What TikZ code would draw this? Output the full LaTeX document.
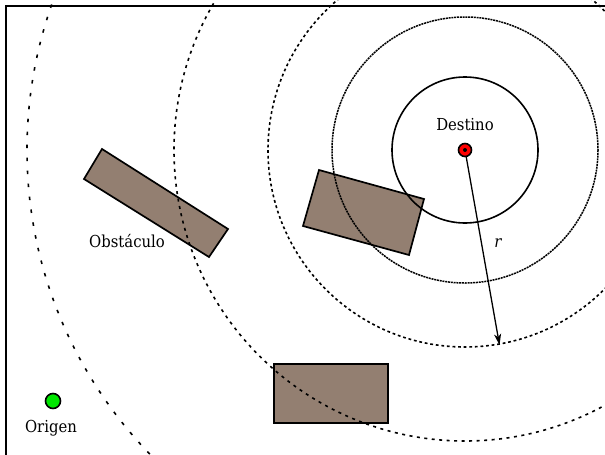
\documentclass[tikz,border=0pt]{standalone}
\usepackage{fontspec}
\setmainfont{DejaVu Serif Condensed}
\usetikzlibrary{arrows.meta}
\definecolor{obst}{RGB}{147,127,113}
\definecolor{goalred}{RGB}{255,0,0}
\definecolor{startgreen}{RGB}{0,230,0}
\tikzset{
  obstacle/.style={fill=obst,draw=black,line width=1.7pt,line join=miter},
  ring/.style={draw=black,line width=1.6pt},
  tightring/.style={draw=black,line width=1.5pt,dash pattern=on 2pt off 0.8pt},
  solidring/.style={draw=black,line width=1.6pt},
  lbl/.style={font=\fontsize{16.5}{19}\selectfont,inner sep=0pt}
}
\begin{document}
\begin{tikzpicture}[x=1pt,y=-1pt]
\useasboundingbox (0,0) rectangle (605,455);
\begin{scope}
\clip (0,0) rectangle (605,455);
% working area frame (left and top edges show)
\draw[line width=1.2pt] (6,470) -- (6,6) -- (620,6);

% obstacles
\filldraw[obstacle] (102,149) -- (228,229) -- (209,257) -- (84,179) -- cycle;
\filldraw[obstacle] (319,170) -- (424,199) -- (409,255) -- (303,226) -- cycle;
\filldraw[obstacle] (274,364) rectangle (388,423);

% target and distance rings
\coordinate (goal) at (465,150);
\draw[solidring] (goal) circle[radius=73];
\draw[tightring] (goal) circle[radius=133];
\draw[ring,dash pattern=on 2.8pt off 2.8pt] (goal) circle[radius=197];
\draw[ring,dash pattern=on 3pt off 4.5pt] (goal) circle[radius=291];
\draw[ring,dash pattern=on 3.5pt off 9.5pt] (goal) circle[radius=438];
\end{scope}

% radius arrow
\coordinate (rend) at (499.5,345);
\draw[line width=1.3pt,-{Stealth[length=11pt,width=7pt,inset=3pt]}] (goal) -- (rend);
\node[lbl,font=\fontsize{16.5}{19}\selectfont\itshape] (rlab) at (498,243) {r};

\node[circle,fill=goalred,draw=black,line width=1.6pt,minimum size=13pt,inner sep=0pt] (dest) at (goal) {};
\fill (goal) circle[radius=2];
\node[lbl] (destlab) at (465,125) {Destino};

\node[circle,fill=startgreen,draw=black,line width=1.6pt,minimum size=15pt,inner sep=0pt] (orig) at (53,401) {};
\node[lbl] (origlab) at (51,428) {Origen};

\node[lbl] (obslab) at (127,241) {Obstáculo};
\end{tikzpicture}
\end{document}
